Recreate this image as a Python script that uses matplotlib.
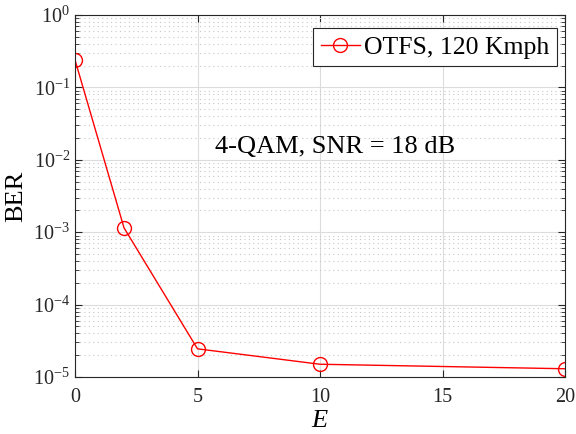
import numpy as np
import matplotlib
matplotlib.use("Agg")
import matplotlib.pyplot as plt
from matplotlib.ticker import LogLocator, NullFormatter

# data
E = [0, 2, 5, 10, 20]
ber = [0.24, 1.15e-3, 2.45e-5, 1.5e-5, 1.3e-5]
xticks = [0, 5, 10, 15, 20]

plt.rcParams['font.family'] = ['Liberation Serif', 'DejaVu Serif']
plt.rcParams['mathtext.fontset'] = 'custom'
plt.rcParams['mathtext.rm'] = 'Liberation Serif'
plt.rcParams['mathtext.it'] = 'Liberation Serif:italic'

fig = plt.figure(figsize=(5.76, 4.34), dpi=100)
ax = fig.add_axes([75/576, 1 - 377/434, 490/576, 362/434])

ax.semilogy(E, ber, '-o', color='red', lw=1.0, ms=10, mfc='none', mew=1.0,
            label='OTFS, 120 Kmph')

ax.set_xlim(0, 20)
ax.set_ylim(1e-5, 1)
ax.set_xticks(xticks)
ax.yaxis.set_major_locator(LogLocator(base=10, numticks=10))
ax.yaxis.set_minor_locator(LogLocator(base=10, subs=np.arange(2, 10), numticks=10))
ax.yaxis.set_minor_formatter(NullFormatter())

ax.grid(True, which='major', color='#dcdcdc', lw=0.8, ls='-')
ax.grid(True, which='minor', axis='y', color='#c8c8c8', lw=0.8, ls=(0, (1, 3)))
ax.set_axisbelow(True)

ax.tick_params(which='both', direction='in', top=True, right=True,
               labelsize=14.5, colors='#262626')
ax.tick_params(axis='x', pad=8)
ax.tick_params(which='major', length=5)
ax.tick_params(which='minor', length=3)
for s in ax.spines.values():
    s.set_color('#262626')
    s.set_linewidth(0.8)

ax.set_xlabel('$E$', fontsize=19, labelpad=2)
ax.set_ylabel('BER', fontsize=19, labelpad=4)

ax.text(10.6, 0.015, '4-QAM, SNR = 18 dB', fontsize=19, ha='center', va='center')

leg = ax.legend(loc='upper right', bbox_to_anchor=(0.984, 0.964),
                fontsize=18.5, fancybox=False, framealpha=1,
                edgecolor='#262626', handlelength=1.55, borderpad=0.3,
                handletextpad=0.15, borderaxespad=0)
leg.get_frame().set_linewidth(0.8)

fig.savefig('out.png', dpi=100)
